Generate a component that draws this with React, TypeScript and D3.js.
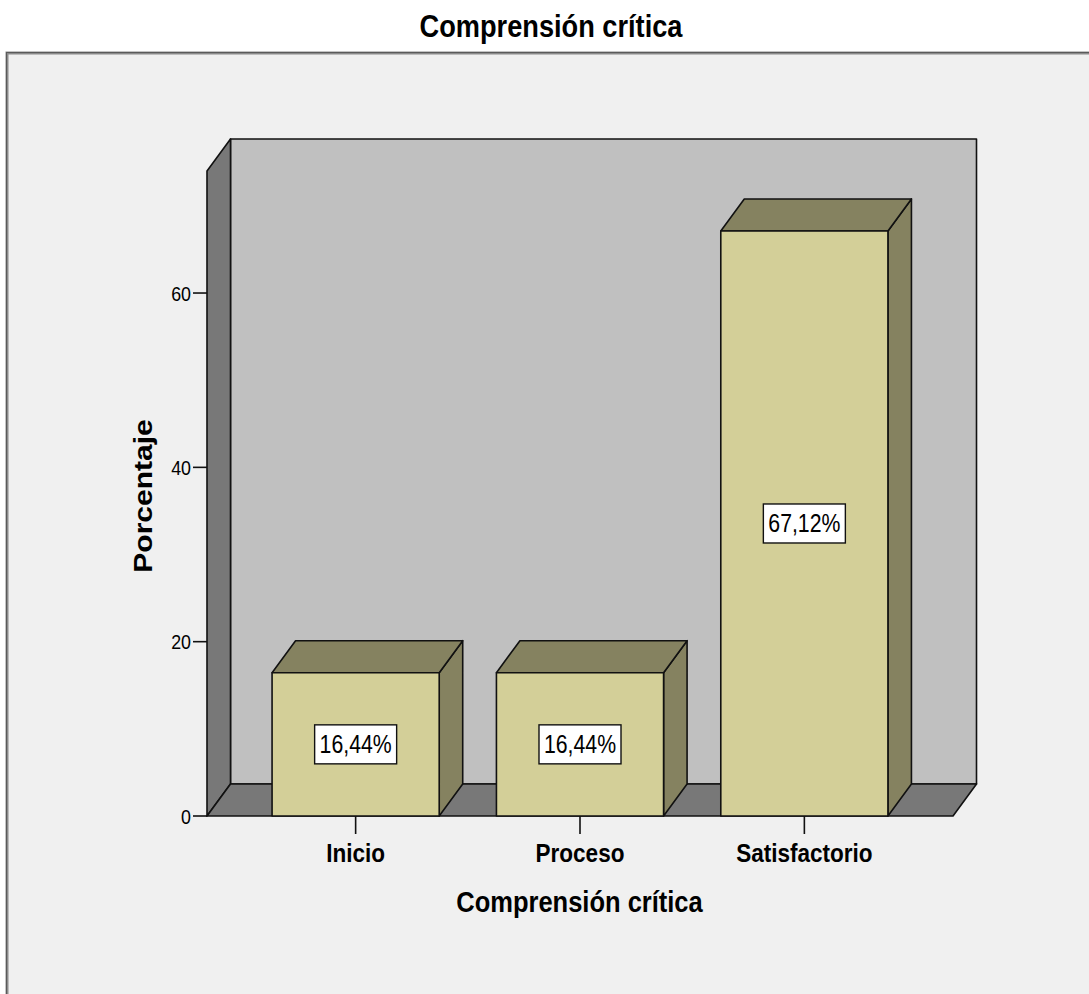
import React from "react";
import * as d3 from "d3";

const categories = ["Inicio", "Proceso", "Satisfactorio"];
const percentages = [16.44, 16.44, 67.12];
const valueLabels = ["16,44%", "16,44%", "67,12%"];
const yTicks = [0, 20, 40, 60];

const W = 1089;
const H = 994;
const FONT = "'Liberation Sans', Arial, Helvetica, sans-serif";
const SX = 0.85; // horizontal condensing applied to all text

// 3D depth offset of the chart box
const DX = 23.5;
const DY = -32;

const colors = {
  page: "#ffffff",
  panel: "#f0f0f0",
  backWall: "#c0c0c0",
  sideWall: "#787878",
  barFront: "#d3cf98",
  barShade: "#858260",
  line: "#111111",
};

export default function App() {
  const x0 = 207;
  const x1 = 953;
  const yBase = 816;
  const yTop = 171;

  const y = d3.scaleLinear().domain([0, 74]).range([yBase, yTop]);
  const x = d3
    .scaleBand<string>()
    .domain(categories)
    .range([x0, x1])
    .paddingInner(0.255)
    .paddingOuter(0.29);

  const pts = (p: [number, number][]) => p.map((q) => q.join(",")).join(" ");

  const stroke = { stroke: colors.line, strokeWidth: 1.6, strokeLinejoin: "round" as const };

  const hText = (
    tx: number,
    ty: number,
    content: string,
    size: number,
    weight: string,
    anchor: "start" | "middle" | "end" = "middle",
    key?: string
  ) => (
    <text
      key={key}
      transform={`translate(${tx},${ty}) scale(${SX},1)`}
      textAnchor={anchor}
      fontFamily={FONT}
      fontSize={size}
      fontWeight={weight}
      fill="#000"
    >
      {content}
    </text>
  );

  return (
    <div style={{ position: "absolute", left: 0, top: 0 }}>
      <svg width={W} height={H} style={{ display: "block", background: colors.page }}>
        {/* panel frame */}
        <rect x={7} y={53} width={W + 20} height={H + 20} fill={colors.panel} stroke="#8a8a8a" strokeWidth={3} />
        <rect x={6.5} y={52.5} width={W + 20} height={H + 20} fill="none" stroke="#5a5a5a" strokeWidth={1} />

        {/* title */}
        {hText(551, 37, "Comprensión crítica", 32, "bold")}

        {/* back wall */}
        <polygon
          points={pts([
            [x0 + DX, yTop + DY],
            [x1 + DX, yTop + DY],
            [x1 + DX, yBase + DY],
            [x0 + DX, yBase + DY],
          ])}
          fill={colors.backWall}
          {...stroke}
        />
        {/* left wall */}
        <polygon
          points={pts([
            [x0, yBase],
            [x0, yTop],
            [x0 + DX, yTop + DY],
            [x0 + DX, yBase + DY],
          ])}
          fill={colors.sideWall}
          {...stroke}
        />
        {/* floor */}
        <polygon
          points={pts([
            [x0, yBase],
            [x1, yBase],
            [x1 + DX, yBase + DY],
            [x0 + DX, yBase + DY],
          ])}
          fill={colors.sideWall}
          {...stroke}
        />

        {/* y axis ticks and labels */}
        {yTicks.map((t) => (
          <g key={t}>
            <line x1={193} x2={x0} y1={y(t)} y2={y(t)} stroke={colors.line} strokeWidth={1.6} />
            {hText(191, y(t) + 7.5, String(t), 21, "normal", "end")}
          </g>
        ))}

        {/* bars */}
        {categories.map((c, i) => {
          const bx = x(c)!;
          const bw = x.bandwidth();
          const top = y(percentages[i]);
          const cx = bx + bw / 2;
          const cy = (top + yBase) / 2;
          return (
            <g key={c}>
              <polygon
                points={pts([
                  [bx + bw, yBase],
                  [bx + bw, top],
                  [bx + bw + DX, top + DY],
                  [bx + bw + DX, yBase + DY],
                ])}
                fill={colors.barShade}
                {...stroke}
              />
              <polygon
                points={pts([
                  [bx, top],
                  [bx + DX, top + DY],
                  [bx + bw + DX, top + DY],
                  [bx + bw, top],
                ])}
                fill={colors.barShade}
                {...stroke}
              />
              <rect x={bx} y={top} width={bw} height={yBase - top} fill={colors.barFront} {...stroke} />
              <rect x={cx - 41} y={cy - 19.5} width={82} height={39} fill="#fff" stroke={colors.line} strokeWidth={1.4} />
              {hText(cx, cy + 9, valueLabels[i], 25, "normal")}
              <line x1={cx} x2={cx} y1={yBase} y2={834} stroke={colors.line} strokeWidth={1.6} />
              {hText(cx, 862, c, 26.5, "bold")}
            </g>
          );
        })}

        {/* x axis title */}
        {hText(579.5, 912, "Comprensión crítica", 30, "bold")}

        {/* y axis title */}
        <text
          transform={`translate(152,496) scale(${SX},1) rotate(-90)`}
          textAnchor="middle"
          fontFamily={FONT}
          fontSize={30}
          fontWeight="bold"
          fill="#000"
        >
          Porcentaje
        </text>
      </svg>
    </div>
  );
}
